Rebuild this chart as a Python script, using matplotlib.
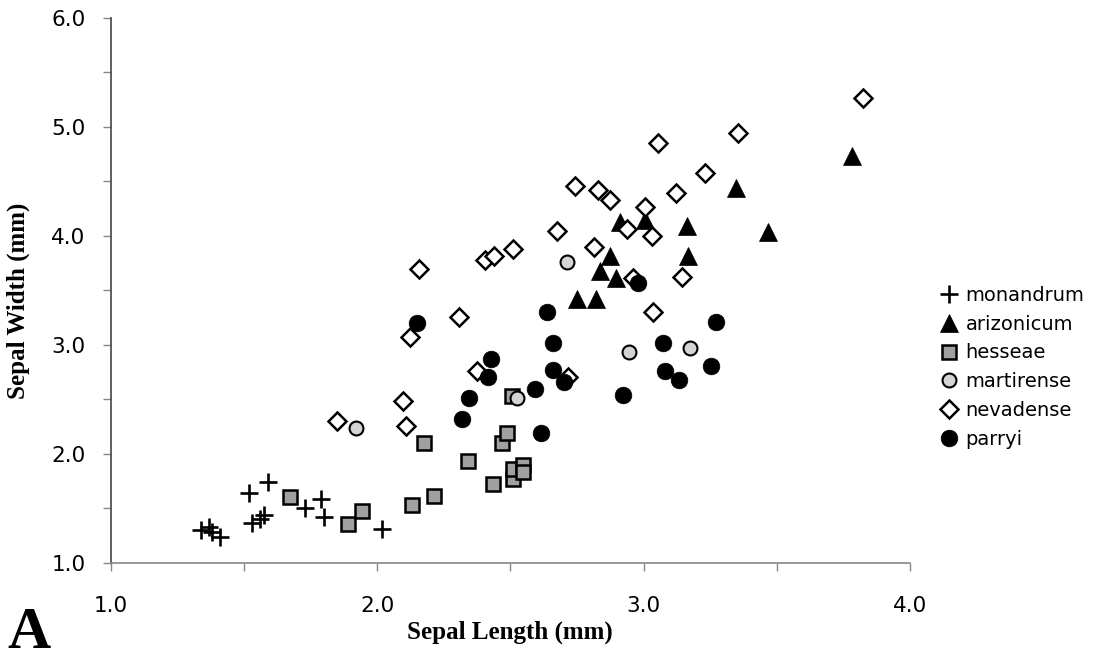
import matplotlib
matplotlib.use('Agg')
import matplotlib.pyplot as plt

# sepal length / width per species (mm)
mon_x = [1.34, 1.37, 1.38, 1.41, 1.52, 1.59, 1.53, 1.56, 1.575, 1.73, 1.79, 1.80, 2.02]
mon_y = [1.30, 1.33, 1.28, 1.24, 1.64, 1.74, 1.36, 1.40, 1.44, 1.50, 1.58, 1.42, 1.31]

ari_x = [3.347, 2.912, 3.006, 3.162, 3.168, 2.874, 2.837, 2.897, 2.752, 2.822, 3.469, 3.782]
ari_y = [4.435, 4.129, 4.144, 4.089, 3.814, 3.814, 3.679, 3.609, 3.417, 3.417, 4.037, 4.731]

hes_x = [1.673, 1.892, 1.942, 2.130, 2.215, 2.176, 2.342, 2.434, 2.468, 2.489, 2.511, 2.511, 2.549, 2.549, 2.505]
hes_y = [1.606, 1.355, 1.477, 1.529, 1.612, 2.101, 1.936, 1.719, 2.101, 2.187, 1.768, 1.857, 1.896, 1.835, 2.529]

mar_x = [2.714, 2.947, 3.175, 2.524, 1.921]
mar_y = [3.762, 2.936, 2.967, 2.508, 2.233]

nev_x = [3.823, 3.356, 3.056, 3.231, 2.743, 2.830, 2.874, 3.122, 3.006, 2.937, 3.031, 2.674, 2.815, 2.158,
         2.405, 2.439, 2.509, 3.143, 2.961, 2.309, 3.036, 2.124, 2.376, 2.718, 2.096, 2.108, 1.848]
nev_y = [5.261, 4.94, 4.85, 4.578, 4.456, 4.419, 4.328, 4.389, 4.26, 4.059, 3.997, 4.043, 3.899, 3.692,
         3.777, 3.814, 3.875, 3.624, 3.609, 3.257, 3.303, 3.068, 2.762, 2.707, 2.486, 2.254, 2.303]

par_x = [2.981, 2.637, 2.151, 3.272, 2.659, 3.074, 2.426, 2.417, 2.662, 2.700, 3.081, 3.134, 3.252, 2.593,
         2.346, 2.922, 2.317, 2.617]
par_y = [3.569, 3.303, 3.196, 3.211, 3.013, 3.013, 2.866, 2.701, 2.768, 2.661, 2.762, 2.676, 2.805, 2.591,
         2.508, 2.539, 2.316, 2.187]

fig = plt.figure(figsize=(10.97, 6.63), dpi=100)
ax = fig.add_axes([0.1009, 0.1513, 0.7286, 0.822])

ax.plot(mon_x, mon_y, ls='none', marker='+', ms=12.5, mew=1.9, color='black', label='monandrum')
ax.plot(ari_x, ari_y, ls='none', marker='^', ms=13, mfc='black', mec='black', mew=0.5, label='arizonicum')
ax.plot(hes_x, hes_y, ls='none', marker='s', ms=10.5, mfc='#a0a0a0', mec='black', mew=1.8, label='hesseae')
ax.plot(mar_x, mar_y, ls='none', marker='o', ms=10, mfc='#d4d4d4', mec='black', mew=1.5, label='martirense')
ax.plot(nev_x, nev_y, ls='none', marker='D', ms=9, mfc='white', mec='black', mew=1.8, label='nevadense')
ax.plot(par_x, par_y, ls='none', marker='o', ms=12, mfc='black', mec='black', mew=0.5, label='parryi')

ax.set_xlim(1.0, 4.0)
ax.set_ylim(1.0, 6.0)
ax.set_xticks([1.0, 2.0, 3.0, 4.0])
ax.set_yticks([1.0, 2.0, 3.0, 4.0, 5.0, 6.0])
ax.set_xticks([1.5, 2.5, 3.5], minor=True)
ax.set_yticks([1.5, 2.5, 3.5, 4.5, 5.5], minor=True)
ax.set_xticklabels(['%.1f' % v for v in ax.get_xticks()])
ax.set_yticklabels(['%.1f' % v for v in ax.get_yticks()])

ax.spines['top'].set_visible(False)
ax.spines['right'].set_visible(False)
ax.spines['bottom'].set_color('#888888')
ax.spines['left'].set_color('#444444')
ax.spines['bottom'].set_linewidth(1.2)
ax.spines['left'].set_linewidth(1.2)
ax.tick_params(axis='both', which='both', direction='out', length=6, width=1, color='#888888')
ax.tick_params(axis='x', which='major', pad=18, labelsize=15.5)
ax.tick_params(axis='y', which='major', pad=12, labelsize=15.5)

ax.set_xlabel('Sepal Length (mm)', family='Liberation Serif', fontweight='bold', fontsize=18, va='center')
ax.xaxis.set_label_coords(0.5, -0.127)
ax.set_ylabel('Sepal Width (mm)', family='Liberation Serif', fontweight='bold', fontsize=18, va='center')
ax.yaxis.set_label_coords(-0.116, 0.48)

leg = ax.legend(loc='center left', bbox_to_anchor=(0.858, 0.446), bbox_transform=fig.transFigure,
                frameon=False, fontsize=14, handlelength=0.8, handletextpad=0.45, borderpad=0,
                labelspacing=0.5, borderaxespad=0)

# panel letter, kept just inside the bottom edge
fig.text(0.0064, 0.003, 'A', family='Liberation Serif', fontweight='bold', fontsize=43, ha='left', va='bottom')

fig.savefig('out.png', dpi=100)
